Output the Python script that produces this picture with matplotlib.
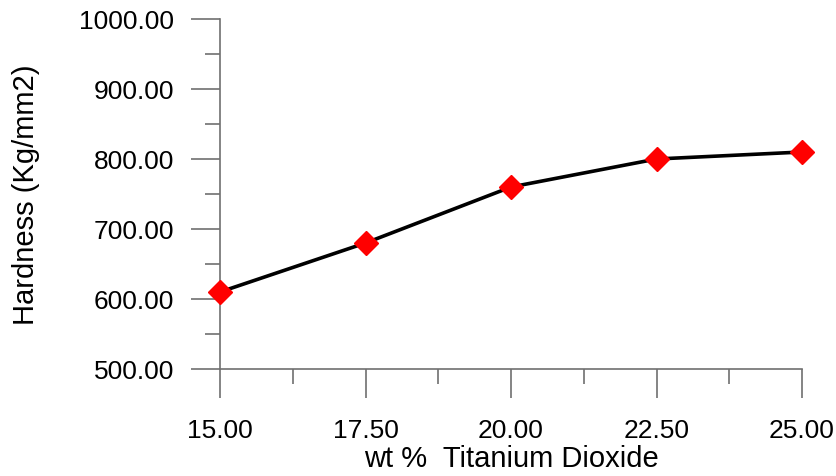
import numpy as np
from matplotlib import pyplot as plt
from matplotlib.ticker import MultipleLocator, FormatStrFormatter

# wt % TiO2 vs hardness
tio2 = [15.0, 17.5, 20.0, 22.5, 25.0]
hardness = [610, 680, 760, 800, 810]

plt.rcParams['font.family'] = ['Liberation Sans', 'DejaVu Sans']

fig = plt.figure(figsize=(8.37, 4.77), dpi=100)
ax = fig.add_axes([220/837, 107/477, 582/837, 350/477])

ax.plot(tio2, hardness, color='black', lw=2.6, zorder=2)
ax.plot(tio2, hardness, 'D', color='red', ms=12.5, mec='red', zorder=3, clip_on=False)

ax.set_xlim(15, 25)
ax.set_ylim(500, 1000)
ax.xaxis.set_major_locator(MultipleLocator(2.5))
ax.xaxis.set_minor_locator(MultipleLocator(1.25))
ax.yaxis.set_major_locator(MultipleLocator(100))
ax.yaxis.set_minor_locator(MultipleLocator(50))
ax.xaxis.set_major_formatter(FormatStrFormatter('%.2f'))
ax.yaxis.set_major_formatter(FormatStrFormatter('%.2f'))

for s in ['top', 'right']:
    ax.spines[s].set_visible(False)
for s in ['left', 'bottom']:
    ax.spines[s].set_color('#707070')
    ax.spines[s].set_linewidth(1.2)

ax.tick_params(which='major', direction='out', length=21, width=1.2, color='#707070', labelsize=19)
ax.tick_params(which='minor', direction='out', length=10.5, width=1.2, color='#707070')
ax.tick_params(axis='y', which='major', pad=12)
ax.tick_params(axis='x', which='major', pad=14)

ax.set_xlabel('wt %  Titanium Dioxide', fontsize=21, labelpad=2)
ax.set_ylabel('Hardness (Kg/mm2)', fontsize=21, labelpad=28)

fig.savefig('out.png', dpi=100)
